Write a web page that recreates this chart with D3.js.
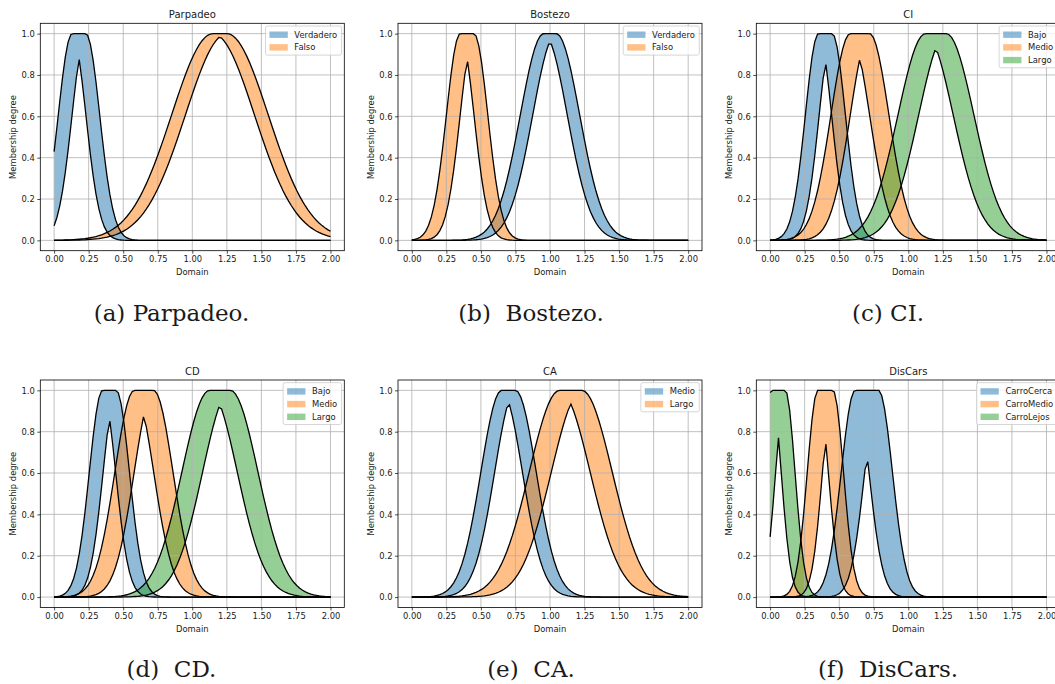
<!DOCTYPE html>
<html>
<head>
<meta charset="utf-8">
<script src="https://cdn.jsdelivr.net/npm/d3@7"></script>
<style>
  body { margin: 0; background: #fff; }
  svg text { font-family: "DejaVu Sans", sans-serif; fill: #1a1a1a; }
  .caption { font-family: "DejaVu Serif", serif; white-space: pre; }
</style>
</head>
<body>
<svg id="fig" width="1055" height="684"></svg>
<script>
const xTicks = [0, 0.25, 0.5, 0.75, 1, 1.25, 1.5, 1.75, 2]
const yTicks = [0, 0.2, 0.4, 0.6, 0.8, 1]
const colors = ["#1f77b4", "#ff7f0e", "#2ca02c"]
const nSamples = 100 // linspace(0, 2, 100)

// every set: [centre, spread of the mean, sigma]
const parpadeoNames = ["Verdadero", "Falso"]
const parpadeoSets = [[0.18, 0.1, 0.1], [1.2, 0.1, 0.3]]
const bostezoNames = ["Verdadero", "Falso"]
const bostezoSets = [[1.0, 0.09, 0.17], [0.4, 0.1, 0.1]]
const ciNames = ["Bajo", "Medio", "Largo"]
const ciSets = [[0.4, 0.1, 0.095], [0.65, 0.14, 0.14], [1.2, 0.15, 0.2]]
const cdNames = ["Bajo", "Medio", "Largo"]
const cdSets = [[0.4, 0.1, 0.095], [0.65, 0.14, 0.14], [1.2, 0.15, 0.2]]
const caNames = ["Medio", "Largo"]
const caSets = [[0.7, 0.1, 0.15], [1.15, 0.16, 0.22]]
const disNames = ["CarroCerca", "CarroMedio", "CarroLejos"]
const disSets = [[0.7, 0.17, 0.1], [0.4, 0.11, 0.076], [0.06, 0.1, 0.07]]

const panels = [
  { title: "Parpadeo", caption: "(a) Parpadeo.", names: parpadeoNames, sets: parpadeoSets, col: 0, row: 0 },
  { title: "Bostezo", caption: "(b)  Bostezo.", names: bostezoNames, sets: bostezoSets, col: 1, row: 0 },
  { title: "CI", caption: "(c) CI.", names: ciNames, sets: ciSets, col: 2, row: 0 },
  { title: "CD", caption: "(d)  CD.", names: cdNames, sets: cdSets, col: 0, row: 1 },
  { title: "CA", caption: "(e)  CA.", names: caNames, sets: caSets, col: 1, row: 1 },
  { title: "DisCars", caption: "(f)  DisCars.", names: disNames, sets: disSets, col: 2, row: 1 }
]

const colLeft = [40.3, 398, 756.3]
const rowTop = [23.3, 380]
const captionX = [171.5, 531, 888]
const captionY = [321, 677]
const W = 304, H = 227.4

const gauss = (x, m, s) => Math.exp(-((x - m) ** 2) / (2 * s * s))
const domain = d3.range(nSamples).map((i) => (2 * i) / (nSamples - 1))

function it2(p) {
  const m1 = p[0] - p[1] / 2, m2 = p[0] + p[1] / 2, s = p[2]
  return domain.map((x) => ({
    x,
    up: x < m1 ? gauss(x, m1, s) : x > m2 ? gauss(x, m2, s) : 1,
    lo: x <= (m1 + m2) / 2 ? gauss(x, m2, s) : gauss(x, m1, s)
  }))
}

const svg = d3.select("#fig")

panels.forEach((p) => {
  const left = colLeft[p.col], top = rowTop[p.row]
  const g = svg.append("g").attr("transform", `translate(${left},${top})`)
  const x = d3.scaleLinear().domain([-0.1, 2.1]).range([0, W])
  const y = d3.scaleLinear().domain([-0.05, 1.05]).range([H, 0])
  const curves = p.sets.map(it2)

  const clip = "clip_" + p.title
  g.append("clipPath").attr("id", clip).append("rect").attr("width", W).attr("height", H)
  const plot = g.append("g").attr("clip-path", `url(#${clip})`)

  const area = d3.area().x((d) => x(d.x)).y0((d) => y(d.lo)).y1((d) => y(d.up))
  plot.selectAll(".band").data(curves).enter().append("path")
    .attr("d", area)
    .attr("fill", (d, i) => colors[i])
    .attr("fill-opacity", 0.5)

  // grid
  plot.selectAll(".gx").data(xTicks).enter().append("line")
    .attr("x1", (d) => x(d)).attr("x2", (d) => x(d)).attr("y1", 0).attr("y2", H)
    .attr("stroke", "#b0b0b0").attr("stroke-width", 0.8)
  plot.selectAll(".gy").data(yTicks).enter().append("line")
    .attr("y1", (d) => y(d)).attr("y2", (d) => y(d)).attr("x1", 0).attr("x2", W)
    .attr("stroke", "#b0b0b0").attr("stroke-width", 0.8)

  const lineLo = d3.line().x((d) => x(d.x)).y((d) => y(d.lo))
  const lineUp = d3.line().x((d) => x(d.x)).y((d) => y(d.up))
  curves.forEach((c) => {
    plot.append("path").attr("d", lineLo(c)).attr("fill", "none").attr("stroke", "#000").attr("stroke-width", 1.3)
    plot.append("path").attr("d", lineUp(c)).attr("fill", "none").attr("stroke", "#000").attr("stroke-width", 1.3)
  })

  // axes
  const xAxis = d3.axisBottom(x).tickValues(xTicks).tickFormat(d3.format(".2f")).tickSize(3).tickPadding(2.5)
  const yAxis = d3.axisLeft(y).tickValues(yTicks).tickFormat(d3.format(".1f")).tickSize(3).tickPadding(2.5)
  const gx = g.append("g").attr("transform", `translate(0,${H})`).call(xAxis)
  const gy = g.append("g").call(yAxis)
  ;[gx, gy].forEach((a) => {
    a.select(".domain").remove()
    a.selectAll("line").attr("stroke", "#000").attr("stroke-width", 0.7)
    a.selectAll("text").attr("font-size", 8.4).attr("font-family", "DejaVu Sans").attr("fill", "#1a1a1a")
  })
  g.append("rect").attr("width", W).attr("height", H).attr("fill", "none").attr("stroke", "#000").attr("stroke-width", 0.8)

  g.append("text").attr("x", W / 2).attr("y", -5).attr("text-anchor", "middle").attr("font-size", 10).text(p.title)
  g.append("text").attr("x", W / 2).attr("y", H + 24.3).attr("text-anchor", "middle").attr("font-size", 8.4).text("Domain")
  g.append("text").attr("transform", `translate(-24.5,${H / 2}) rotate(-90)`).attr("text-anchor", "middle")
    .attr("font-size", 8.4).text("Membership degree")

  // legend
  const lg = g.append("g")
  const labels = lg.selectAll(".lt").data(p.names).enter().append("text")
    .attr("font-size", 8.4).attr("dy", "0.35em").text((d) => d)
  const tw = d3.max(labels.nodes(), (n) => n.getComputedTextLength())
  const boxW = 4 + 18.3 + 6.6 + tw + 4.4
  const boxH = 8.7 + 12.7 * (p.names.length - 1) + 7.7
  const bx = W - 2.7 - boxW, by = 2.7
  lg.insert("rect", "text").attr("x", bx).attr("y", by).attr("width", boxW).attr("height", boxH)
    .attr("rx", 2).attr("fill", "#fff").attr("fill-opacity", 0.8).attr("stroke", "#ccc").attr("stroke-width", 0.8)
  lg.selectAll(".lp").data(p.names).enter().insert("rect", "text")
    .attr("x", bx + 4).attr("y", (d, i) => by + 8.7 + 12.7 * i - 3.2)
    .attr("width", 18.3).attr("height", 6.4)
    .attr("fill", (d, i) => colors[i]).attr("fill-opacity", 0.5)
  labels.attr("x", bx + 4 + 18.3 + 6.6).attr("y", (d, i) => by + 8.7 + 12.7 * i)

  svg.append("text").attr("class", "caption").attr("x", captionX[p.col]).attr("y", captionY[p.row])
    .attr("text-anchor", "middle").attr("font-size", 23).text(p.caption)
})
</script>
</body>
</html>
